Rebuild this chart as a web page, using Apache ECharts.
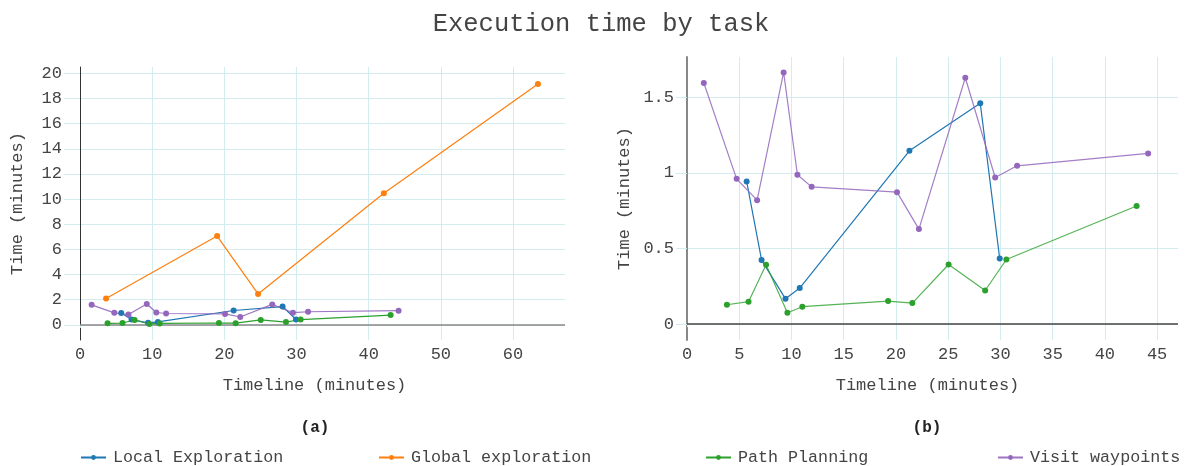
<!DOCTYPE html>
<html lang="en">
<head>
    <meta charset="UTF-8">
    <title>Execution time by task</title>
    <style>
        html, body { margin: 0; padding: 0; background: #fff; }
    </style>
</head>
<body>
<div id="chartBox" style="width: 1186px;height: 466px;"></div>
<script type="text/javascript" src="https://cdn.jsdelivr.net/npm/echarts@6/dist/echarts.min.js"></script>
<script type="text/javascript">
    // task timings (timeline minutes, duration minutes)
    var localX = [5.71, 7.14, 9.43, 10.79, 21.29, 28.07, 29.93];
    var localY = [0.943, 0.423, 0.167, 0.238, 1.145, 1.46, 0.434];

    var globalX = [3.61, 19.0, 24.67, 42.1, 63.45];
    var globalY = [2.1, 7.06, 2.46, 10.46, 19.15];

    var pathX = [3.82, 5.89, 7.57, 9.61, 11.04, 19.25, 21.57, 25.04, 28.54, 30.57, 43.04];
    var pathY = [0.128, 0.148, 0.392, 0.075, 0.115, 0.152, 0.139, 0.394, 0.222, 0.427, 0.78];

    var visitX = [1.61, 4.75, 6.71, 9.25, 10.57, 11.93, 20.1, 22.2, 26.64, 29.5, 31.6, 44.14];
    var visitY = [1.593, 0.96, 0.819, 1.663, 0.987, 0.907, 0.872, 0.628, 1.628, 0.969, 1.046, 1.128];

    var seriesNames = ['Local Exploration', 'Global exploration', 'Path Planning', 'Visit waypoints'];
    var seriesColors = ['#1f77b4', '#ff7f0e', '#2ca02c', '#9467bd'];

    var leftXTicks = [0, 10, 20, 30, 40, 50, 60];
    var leftYTicks = [0, 2, 4, 6, 8, 10, 12, 14, 16, 18, 20];
    var rightXTicks = [0, 5, 10, 15, 20, 25, 30, 35, 40, 45];
    var rightYTicks = [0, 0.5, 1, 1.5];

    var FONT = '"Liberation Mono", "DejaVu Sans Mono", monospace';
    var TXT = '#444';
    var GRIDC = '#d3ecee';

    function pairs(xs, ys) {
        return xs.map(function (x, i) { return [x, ys[i]]; });
    }

    function xAxisOf(idx, max, ticks, shift) {
        return {
            type: 'value', gridIndex: idx, min: 0, max: max,
            name: 'Timeline (minutes)', nameLocation: 'middle', nameGap: 37,
            nameTextStyle: { fontFamily: FONT, fontSize: 17, color: TXT, padding: [0, shift, 0, 0] },
            axisLine: { show: false },
            axisTick: { show: true, length: 3, lineStyle: { color: GRIDC }, customValues: ticks },
            axisLabel: { fontFamily: FONT, fontSize: 17, color: TXT, margin: 6, customValues: ticks },
            splitLine: { show: true, lineStyle: { color: GRIDC, width: 1 } }
        };
    }

    function yAxisOf(idx, min, max, ticks, lineColor, lineWidth, tickLen) {
        return {
            type: 'value', gridIndex: idx, min: min, max: max,
            name: 'Time (minutes)', nameLocation: 'middle', nameGap: 54, nameRotate: 90,
            nameTextStyle: { fontFamily: FONT, fontSize: 17, color: TXT },
            axisLine: { show: true, onZero: false, lineStyle: { color: lineColor, width: lineWidth } },
            axisTick: { show: true, length: tickLen, lineStyle: { color: GRIDC }, customValues: ticks },
            axisLabel: { fontFamily: FONT, fontSize: 17, color: TXT, margin: tickLen + 2, customValues: ticks },
            splitLine: { show: true, lineStyle: { color: GRIDC, width: 1 } }
        };
    }

    function lineSeries(k, xs, ys, idx, opacity, withZero) {
        var s = {
            name: seriesNames[k], type: 'line',
            xAxisIndex: idx, yAxisIndex: idx,
            data: pairs(xs, ys),
            symbol: 'circle', symbolSize: 6, showSymbol: true,
            itemStyle: { color: seriesColors[k] },
            lineStyle: { color: seriesColors[k], width: 1.2, opacity: opacity },
            z: 3
        };
        if (withZero) {
            s.markLine = {
                silent: true, symbol: 'none', label: { show: false },
                lineStyle: { color: withZero, width: 1.5, type: 'solid' },
                data: [{ yAxis: 0 }], z: 1
            };
        }
        return s;
    }

    var myChart = echarts.init(document.getElementById('chartBox'));

    myChart.setOption({
        animation: false,
        backgroundColor: '#fff',
        title: [
            { text: 'Execution time by task', left: 596, top: 6, textAlign: 'center',
              textStyle: { fontFamily: FONT, fontSize: 25.5, fontWeight: 'normal', color: TXT } },
            { text: '(a)', left: 310, top: 415, textAlign: 'center',
              textStyle: { fontFamily: FONT, fontSize: 16, fontWeight: 'bold', color: '#222' } },
            { text: '(b)', left: 922, top: 415, textAlign: 'center',
              textStyle: { fontFamily: FONT, fontSize: 16, fontWeight: 'bold', color: '#222' } }
        ],
        legend: [80, 378, 705, 997].map(function (lx, k) {
            return {
                data: [seriesNames[k]], left: lx, top: 449, padding: 0,
                itemWidth: 25, itemHeight: 6, itemGap: 0,
                textStyle: { fontFamily: FONT, fontSize: 16.7, color: TXT, padding: [0, 0, 0, 2] }
            };
        }),
        grid: [
            { left: 80, right: 621, top: 67, bottom: 126 },
            { left: 687, right: 8, top: 57, bottom: 126 }
        ],
        xAxis: [
            xAxisOf(0, 67.2, leftXTicks, 16),
            xAxisOf(1, 47, rightXTicks, 10)
        ],
        yAxis: [
            yAxisOf(0, -1.2, 20.5, leftYTicks, '#333', 1, 16),
            yAxisOf(1, -0.105, 1.765, rightYTicks, '#888', 2, 11)
        ],
        series: [
            lineSeries(0, localX, localY, 0, 1, '#888'),
            lineSeries(1, globalX, globalY, 0, 1),
            lineSeries(2, pathX, pathY, 0, 1),
            lineSeries(3, visitX, visitY, 0, 0.9),
            lineSeries(0, localX, localY, 1, 1, '#444'),
            lineSeries(2, pathX, pathY, 1, 0.8),
            lineSeries(3, visitX, visitY, 1, 0.85)
        ]
    });
</script>
</body>
</html>
